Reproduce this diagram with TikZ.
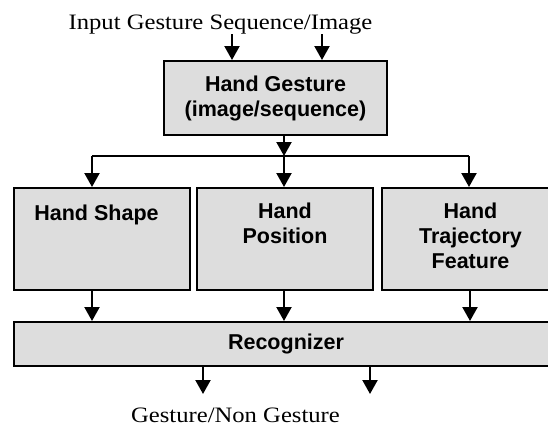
\documentclass[tikz,border=0pt]{standalone}
\usepackage{fontspec}
\newfontfamily\arialfam{Liberation Sans}
\newfontfamily\timesfam[FakeStretch=1.12]{Liberation Serif}
\usetikzlibrary{arrows.meta}
\definecolor{boxgray}{RGB}{221,221,221}
\begin{document}
\begin{tikzpicture}[x=1pt,y=-1pt,
  box/.style={draw=black, line width=2pt, fill=boxgray, rectangle, inner sep=0pt},
  lbl/.style={font=\arialfam\bfseries\fontsize{21.5}{25}\selectfont, align=center, inner sep=0pt},
  caption/.style={font=\timesfam\fontsize{22}{26}\selectfont, inner sep=0pt},
  arr/.style={line width=2.2pt, -{Triangle[length=14pt,width=15pt]}},
  plain/.style={line width=1.8pt}
]
\useasboundingbox (0,0) rectangle (548,431);

% input caption
\node[caption, anchor=base] (intxt) at (220.5,29) {Input Gesture Sequence/Image};
\coordinate (in1) at (232,34);
\coordinate (in2) at (322,34);

% hand gesture box
\node[box, minimum width=223pt, minimum height=74pt] (hg) at (275.5,98) {};
\node[lbl] (hgt) at (hg.center) {Hand Gesture\\(image/sequence)};
\draw[arr] (in1) -- (in1 |- hg.north);
\draw[arr] (in2) -- (in2 |- hg.north);

% feature boxes
\node[box, minimum width=176pt, minimum height=102pt] (shape) at (102,239) {};
\node[box, minimum width=176pt, minimum height=102pt] (pos) at (285,239) {};
\node[box, minimum width=176pt, minimum height=102pt] (traj) at (470,239) {};
\node[lbl, anchor=north] (shapet) at (96.5,205) {Hand Shape};
\node[lbl, anchor=north] (post) at (285,203) {Hand\\Position};
\node[lbl, anchor=north] (trajt) at (470.5,203) {Hand\\Trajectory\\Feature};

% split
\coordinate (split) at (284,156);
\coordinate (splitL) at (92,156);
\coordinate (splitR) at (469,156);
\draw[arr] (hg.south -| split) -- (split);
\draw[plain] (splitL) -- (splitR);
\draw[arr] (splitL) -- (splitL |- shape.north);
\draw[arr] (split) -- (split |- pos.north);
\draw[arr] (splitR) -- (splitR |- traj.north);

% recognizer
\node[box, minimum width=544pt, minimum height=44pt, font=\arialfam\bfseries\fontsize{21.5}{25}\selectfont] (rec) at (286,344) {Recognizer};
\draw[arr] (splitL |- shape.south) -- (splitL |- rec.north);
\draw[arr] (split |- pos.south) -- (split |- rec.north);
\draw[arr] (traj.south) -- (traj.south |- rec.north);

% outputs
\coordinate (out1) at (203,394);
\coordinate (out2) at (370,394);
\draw[arr] (out1 |- rec.south) -- (out1);
\draw[arr] (out2 |- rec.south) -- (out2);
\node[caption, anchor=base] (outtxt) at (235.5,422) {Gesture/Non Gesture};
\end{tikzpicture}
\end{document}
